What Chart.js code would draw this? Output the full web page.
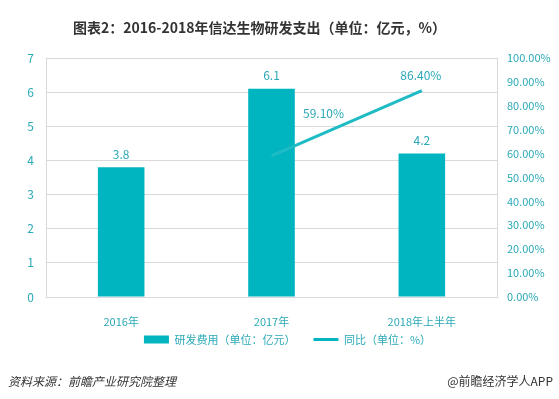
<!DOCTYPE html>
<html lang="zh">
<head>
    <meta charset="UTF-8">
    <title>信达生物研发支出</title>
    <script src="https://cdn.jsdelivr.net/npm/chart.js"></script>
    <style>
        body { margin: 0; background: #fff; font-family: "Noto Sans CJK SC", sans-serif; }
        #wrap { position: relative; width: 559px; height: 399px; }
        #title { position: absolute; left: 0; top: 17px; width: 519px; text-align: center; font-size: 14px; font-weight: bold; color: #333; }
        .foot { position: absolute; top: 372px; font-size: 12px; color: #333; }
        #src { left: 8px; font-style: italic; }
        #brand { right: 6px; }
    </style>
</head>
<body>
<div id="wrap">
    <canvas id="rdChart" width="559" height="399"></canvas>
    <div id="title">图表2：2016-2018年信达生物研发支出（单位：亿元，%）</div>
    <div class="foot" id="src">资料来源：前瞻产业研究院整理</div>
    <div class="foot" id="brand">@前瞻经济学人APP</div>
</div>

<script>
    const years = ['2016年', '2017年', '2018年上半年'];
    const rdSpend = [3.8, 6.1, 4.2];
    const yoyGrowth = [null, 0.591, 0.864];
    const leftTicks = [0, 1, 2, 3, 4, 5, 6, 7];
    const seriesNames = ['研发费用（单位：亿元）', '同比（单位：%）'];

    const teal = '#00b5c0';
    const lineTeal = '#1fbbc5';
    const tickColor = '#2aa9b6';
    const gridColor = '#d9d9d9';

    // value labels above bars and line points
    const valueLabels = {
        id: 'valueLabels',
        afterDatasetsDraw(chart) {
            const ctx = chart.ctx;
            ctx.save();
            ctx.font = '12px "Noto Sans CJK SC", sans-serif';
            ctx.fillStyle = tickColor;
            ctx.textAlign = 'center';
            ctx.textBaseline = 'middle';
            chart.getDatasetMeta(0).data.forEach((bar, i) => {
                ctx.fillText(rdSpend[i].toFixed(1), bar.x, bar.y - 13);
            });
            const offs = [null, [52, -42], [-1, -15]];
            chart.getDatasetMeta(1).data.forEach((pt, i) => {
                if (yoyGrowth[i] === null) return;
                ctx.fillText((yoyGrowth[i] * 100).toFixed(2) + '%', pt.x + offs[i][0], pt.y + offs[i][1]);
            });
            ctx.restore();
        }
    };

    const ctx = document.getElementById('rdChart').getContext('2d');
    new Chart(ctx, {
        data: {
            labels: years,
            datasets: [{
                type: 'bar',
                label: seriesNames[0],
                data: rdSpend,
                backgroundColor: teal,
                categoryPercentage: 1,
                barPercentage: 0.31,
                yAxisID: 'y',
                order: 2
            }, {
                type: 'line',
                label: seriesNames[1],
                data: yoyGrowth,
                borderColor: lineTeal,
                backgroundColor: lineTeal,
                borderWidth: 3,
                pointRadius: 0,
                tension: 0,
                yAxisID: 'y1',
                order: 1
            }]
        },
        options: {
            responsive: false,
            animation: false,
            layout: { padding: { top: 58, bottom: 44, left: 16, right: 0 } },
            plugins: {
                title: { display: false },
                tooltip: { enabled: false },
                legend: {
                    position: 'bottom',
                    labels: {
                        usePointStyle: true,
                        pointStyleWidth: 25,
                        boxHeight: 8,
                        padding: 7,
                        color: tickColor,
                        font: { size: 11, family: '"Noto Sans CJK SC", sans-serif' },
                        generateLabels(chart) {
                            return chart.data.datasets.map((ds, i) => ({
                                // extra space after the first entry widens the gap between items
                                text: i === 0 ? ds.label + '\u3000\u2002' : ds.label,
                                fillStyle: teal,
                                strokeStyle: teal,
                                lineWidth: i === 0 ? 0 : 3,
                                pointStyle: i === 0 ? 'rect' : 'line',
                                fontColor: tickColor,
                                datasetIndex: i
                            }));
                        }
                    }
                }
            },
            scales: {
                x: {
                    grid: { display: false },
                    border: { display: true, color: gridColor },
                    ticks: { color: tickColor, padding: 10, font: { size: 11, family: '"Noto Sans CJK SC", sans-serif' } },
                    afterFit(s) { s.height = 30; }
                },
                y: {
                    position: 'left',
                    min: 0,
                    max: 7,
                    afterBuildTicks(s) { s.ticks = leftTicks.map(v => ({ value: v })); },
                    grid: { color: gridColor, drawTicks: false },
                    border: { display: true, color: gridColor },
                    ticks: { color: tickColor, padding: 12, font: { size: 12, family: '"Noto Sans CJK SC", sans-serif' } },
                    afterFit(s) { s.width = 30; }
                },
                y1: {
                    position: 'right',
                    min: 0,
                    max: 1,
                    grid: { display: false, drawTicks: false },
                    border: { display: true, color: gridColor },
                    ticks: {
                        stepSize: 0.1,
                        color: tickColor,
                        padding: 10,
                        font: { size: 11, family: '"Noto Sans CJK SC", sans-serif' },
                        callback: v => (v * 100).toFixed(2) + '%'
                    },
                    afterFit(s) { s.width = 62; }
                }
            }
        },
        plugins: [valueLabels]
    });
</script>
</body>
</html>
